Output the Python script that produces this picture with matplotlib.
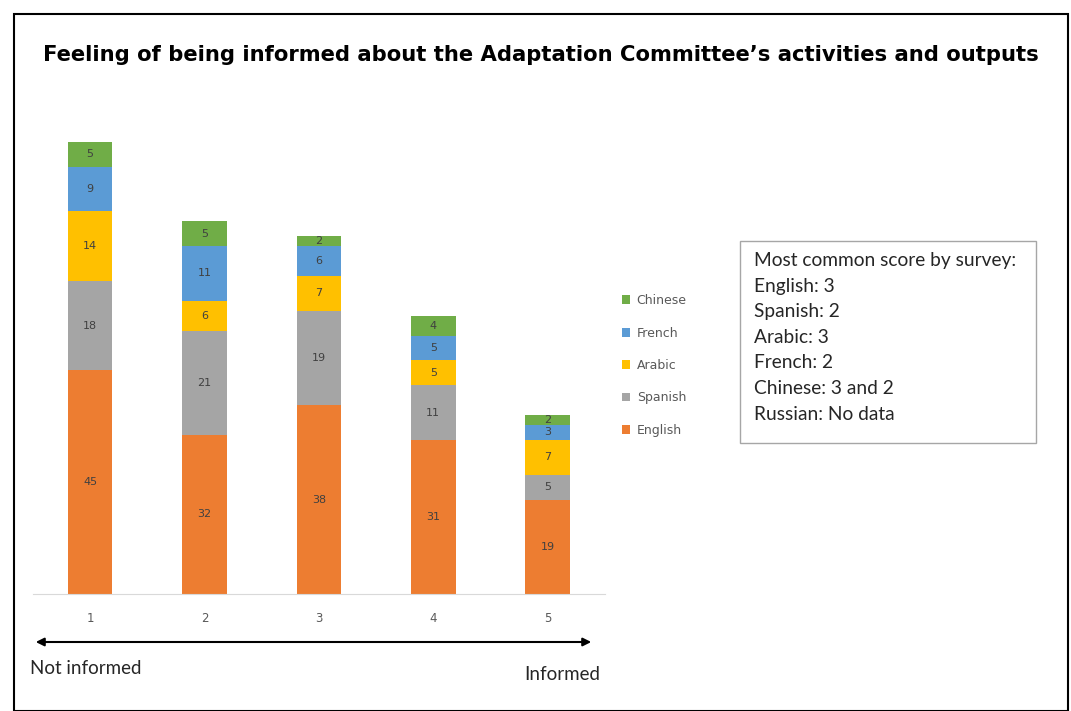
import numpy as np
import matplotlib.pyplot as plt
from matplotlib.patches import Rectangle, FancyArrowPatch

# Survey score (1 = not informed ... 5 = informed)
scores = [1, 2, 3, 4, 5]
english = [45, 32, 38, 31, 19]
spanish = [18, 21, 19, 11, 5]
arabic = [14, 6, 7, 5, 7]
french = [9, 11, 6, 5, 3]
chinese = [5, 5, 2, 4, 2]

series = [
    ("English", english, "#ED7D31"),
    ("Spanish", spanish, "#A5A5A5"),
    ("Arabic", arabic, "#FFC000"),
    ("French", french, "#5B9BD5"),
    ("Chinese", chinese, "#70AD47"),
]

box_lines = [
    "Most common score by survey:",
    "English: 3",
    "Spanish: 2",
    "Arabic: 3",
    "French: 2",
    "Chinese: 3 and 2",
    "Russian: No data",
]

fig = plt.figure(figsize=(10.71, 7.11), dpi=100)
ax = fig.add_axes([0.0308, 0.1646, 0.534, 0.699])

bottom = np.zeros(len(scores))
handles = []
for name, vals, color in series:
    bars = ax.bar(scores, vals, width=0.39, bottom=bottom, color=color, label=name)
    handles.append(bars)
    for x, v, b in zip(scores, vals, bottom):
        ax.text(x, b + v / 2, str(v), ha="center", va="center",
                fontsize=8, color="#404040")
    bottom += np.array(vals)

ax.set_xlim(0.5, 5.5)
ax.set_ylim(0, 100)
for s in ["top", "right", "left"]:
    ax.spines[s].set_visible(False)
ax.spines["bottom"].set_color("#D9D9D9")
ax.set_yticks([])
ax.set_xticks(scores)
ax.tick_params(axis="x", length=0, pad=13, labelsize=8.5, labelcolor="#595959")

leg = fig.legend(handles[::-1], [s[0] for s in series][::-1],
                 loc="center left", bbox_to_anchor=(0.570, 0.486),
                 frameon=False, fontsize=9, labelcolor="#595959",
                 handlelength=0.7, handleheight=0.7, handletextpad=0.5,
                 labelspacing=1.55)

# Title
fig.text(0.505, 0.922,
         "Feeling of being informed about the Adaptation Committee\u2019s activities and outputs",
         ha="center", va="center", fontsize=15.2, fontweight="bold",
         family="DejaVu Sans")

# Text box
fig.patches.append(Rectangle((740 / 1071, 1 - 443 / 711), 296 / 1071, 202 / 711,
                             transform=fig.transFigure, fill=False,
                             edgecolor="#A6A6A6", linewidth=1))
for i, line in enumerate(box_lines):
    fig.text(754 / 1071, 1 - (261 + 25.5 * i) / 711, line, ha="left", va="center",
             fontsize=13.8, color="#262626", family="Lato")

# Arrow under the axis
fig.patches.append(FancyArrowPatch((33 / 1071, 1 - 642 / 711), (594 / 1071, 1 - 642 / 711),
                                   transform=fig.transFigure, arrowstyle="<|-|>",
                                   mutation_scale=12, color="black", linewidth=1.5))
fig.text(30 / 1071, 1 - 669 / 711, "Not informed", ha="left", va="center",
         fontsize=13.5, color="#262626", family="Lato")
fig.text(600 / 1071, 1 - 675 / 711, "Informed", ha="right", va="center",
         fontsize=13.5, color="#262626", family="Lato")

# Outer border
fig.patches.append(Rectangle((14 / 1071, 0), 1054 / 1071, 697 / 711,
                             transform=fig.transFigure, fill=False,
                             edgecolor="black", linewidth=1.5))

plt.savefig("out.png", dpi=100)
plt.close()
